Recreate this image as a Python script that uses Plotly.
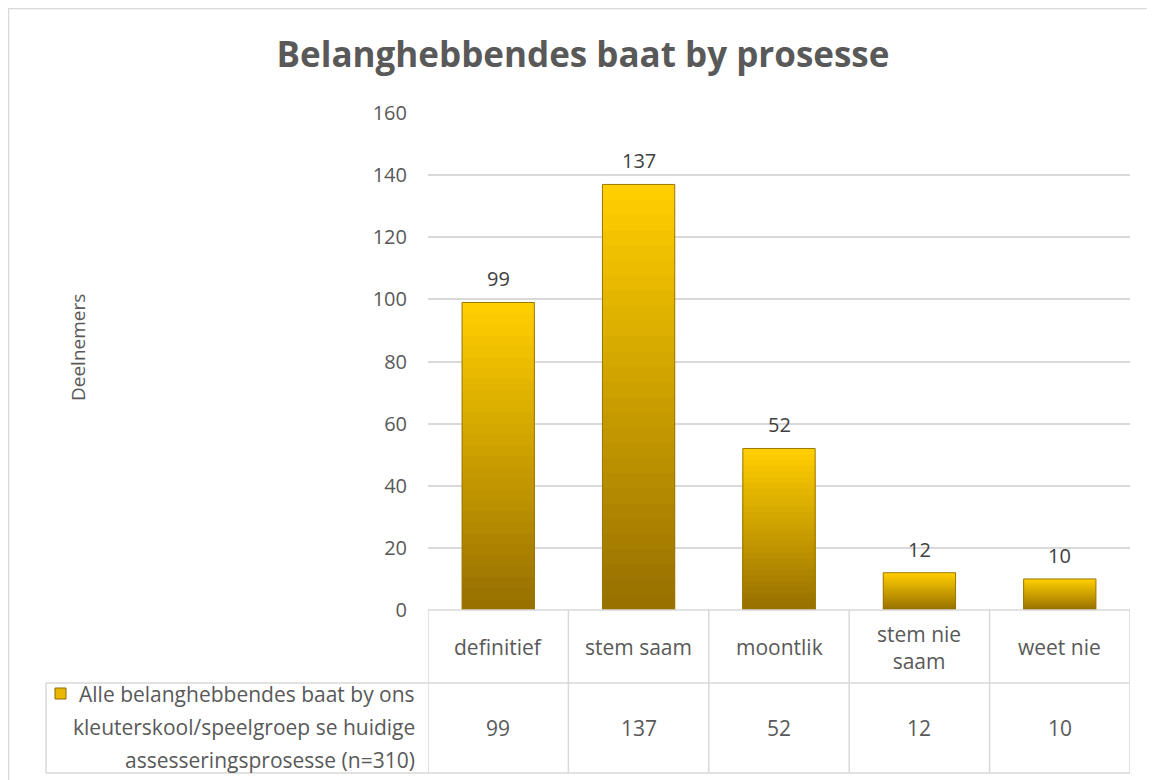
import plotly.graph_objects as go

categories = ["definitief", "stem saam", "moontlik", "stem nie saam", "weet nie"]
category_labels = ["definitief", "stem saam", "moontlik", "stem nie<br>saam", "weet nie"]
values = [99, 137, 52, 12, 10]
series_name = "Alle belanghebbendes baat by ons<br>kleuterskool/speelgroep se huidige<br>assesseringsprosesse (n=310)"
y_ticks = [0, 20, 40, 60, 80, 100, 120, 140, 160]

OFF = 8  # page offset of the figure inside the browser window
W, H = 1155 - OFF, 780 - OFF
L = 428 - OFF
R = W - (1130 - OFF)
T = 113 - OFF
B = H - (610 - OFF)
pw, ph = W - L - R, H - T - B

def px_x(px):  # screen px -> paper x
    return (px - OFF - L) / pw

def px_y(py):  # screen px -> paper y
    return (H - B - (py - OFF)) / ph

FONT = "Open Sans"
TXT = "#595959"
GRID = "#D9D9D9"
FS = 21

fig = go.Figure()

# gradient: top bright yellow -> bottom dark gold
top_c = (255, 206, 0)
bot_c = (152, 113, 0)
N = 28
for k in range(N):
    f = k / N
    t = k / (N - 1)
    c = tuple(int(top_c[i] + (bot_c[i] - top_c[i]) * t) for i in range(3))
    fig.add_trace(go.Bar(
        x=categories,
        y=[v * (1 - f) for v in values],
        marker=dict(color="rgb(%d,%d,%d)" % c, line=dict(width=0)),
        hoverinfo="skip",
        showlegend=False,
    ))

# outline
fig.add_trace(go.Bar(
    x=categories,
    y=values,
    name="values",
    marker=dict(color="rgba(0,0,0,0)", line=dict(color="#9A7600", width=1)),
    showlegend=False,
))

shapes = []
line_style = dict(color=GRID, width=1.5)
y_head = px_y(683)
y_bot = px_y(773)
shapes.append(dict(type="line", xref="x", yref="paper", x0=-0.5, x1=4.5, y0=0, y1=0, line=line_style))
shapes.append(dict(type="line", xref="paper", yref="paper", x0=px_x(46), x1=1, y0=y_head, y1=y_head, line=line_style))
shapes.append(dict(type="line", xref="paper", yref="paper", x0=px_x(46), x1=1, y0=y_bot, y1=y_bot, line=line_style))
for i in range(len(categories) + 1):
    xb = i - 0.5
    shapes.append(dict(type="line", xref="x", yref="paper", x0=xb, x1=xb, y0=0, y1=y_bot, line=line_style))
shapes.append(dict(type="line", xref="paper", yref="paper", x0=px_x(46), x1=px_x(46), y0=y_head, y1=y_bot, line=line_style))
# legend key square
shapes.append(dict(type="rect", xref="paper", yref="paper",
                   x0=px_x(55), x1=px_x(66), y0=px_y(699), y1=px_y(688),
                   fillcolor="#EBB800", line=dict(color="#8A6A00", width=1)))
# chart border (top and left)
shapes.append(dict(type="line", xref="paper", yref="paper", x0=px_x(8), x1=px_x(1160), y0=px_y(8.5), y1=px_y(8.5),
                   line=dict(color=GRID, width=1.5)))
shapes.append(dict(type="line", xref="paper", yref="paper", x0=px_x(8.5), x1=px_x(8.5), y0=px_y(8), y1=px_y(790),
                   line=dict(color=GRID, width=1.5)))

annotations = []
for cat, lab, v in zip(categories, category_labels, values):
    # value label above bar
    annotations.append(dict(x=cat, xref="x", y=v, yref="y", text=str(v), showarrow=False,
                            yanchor="bottom", yshift=8,
                            font=dict(family=FONT, size=FS - 1, color="#404040")))
    # table header
    annotations.append(dict(x=cat, xref="x", y=px_y(647), yref="paper",
                            text=lab, showarrow=False, yanchor="middle",
                            font=dict(family=FONT, size=FS, color=TXT)))
    # table value
    annotations.append(dict(x=cat, xref="x", y=px_y(728), yref="paper",
                            text=str(v), showarrow=False, yanchor="middle",
                            font=dict(family=FONT, size=FS, color=TXT)))
for line_text, ly in zip(series_name.split("<br>"), [694, 727, 760]):
    annotations.append(dict(x=px_x(417), xref="paper", y=px_y(ly), yref="paper",
                            text=line_text, showarrow=False, xanchor="right", yanchor="middle",
                            font=dict(family=FONT, size=FS, color=TXT)))
annotations.append(dict(x=px_x(63), xref="paper", y=px_y(348), yref="paper",
                        text="Deelnemers", showarrow=False, textangle=-90,
                        font=dict(family=FONT, size=19, color=TXT)))

fig.update_layout(
    width=W, height=H,
    margin=dict(l=L, r=R, t=T, b=B),
    paper_bgcolor="white", plot_bgcolor="white",
    barmode="overlay", bargap=0.485,
    title=dict(text="<b>Belanghebbendes baat by prosesse</b>", x=(583 - OFF) / W,
               xanchor="center", y=1 - (55 - OFF) / H, yanchor="middle",
               font=dict(family=FONT, size=35, color=TXT)),
    xaxis=dict(range=[-0.5, 4.5], showticklabels=False, showgrid=False, zeroline=False,
               showline=False, ticks=""),
    yaxis=dict(range=[0, 160], tickvals=y_ticks, showgrid=True, gridcolor=GRID, gridwidth=1.5,
               zeroline=False, showline=False, ticks="", ticklabelstandoff=20,
               tickfont=dict(family=FONT, size=FS - 1, color=TXT)),
    shapes=shapes,
    annotations=annotations,
    font=dict(family=FONT),
)

fig.write_html("out.html")
